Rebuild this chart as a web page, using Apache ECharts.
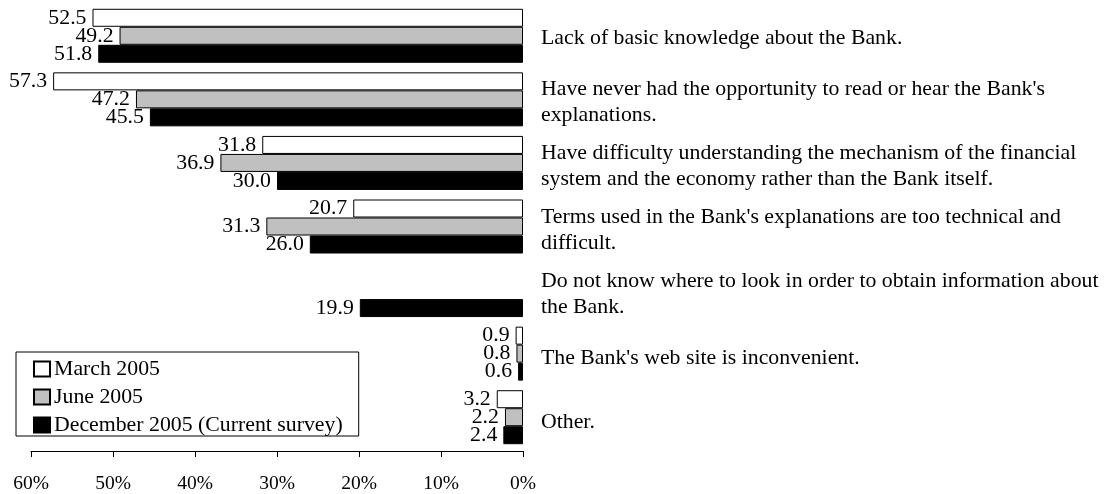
<!DOCTYPE html>
<html>
<head>
<meta charset="utf-8">
<script src="https://cdn.jsdelivr.net/npm/echarts@6/dist/echarts.min.js"></script>
<style>
  html, body { margin: 0; padding: 0; background: #fff; }
  #chart { width: 1105px; height: 494px; }
</style>
</head>
<body>
<div id="chart"></div>
<script>
// Reasons respondents gave for not understanding the Bank (% of respondents)
const categories = [
  "Lack of basic knowledge about the Bank.",
  "Have never had the opportunity to read or hear the Bank's\nexplanations.",
  "Have difficulty understanding the mechanism of the financial\nsystem and the economy rather than the Bank itself.",
  "Terms used in the Bank's explanations are too technical and\ndifficult.",
  "Do not know where to look in order to obtain information about\nthe Bank.",
  "The Bank's web site is inconvenient.",
  "Other."
];
const seriesNames = ["March 2005", "June 2005", "December 2005 (Current survey)"];
const march2005 = [52.5, 57.3, 31.8, 20.7, null, 0.9, 3.2];
const june2005 = [49.2, 47.2, 36.9, 31.3, null, 0.8, 2.2];
const december2005 = [51.8, 45.5, 30.0, 26.0, 19.9, 0.6, 2.4];
const axisTicks = [0, 10, 20, 30, 40, 50, 60];

const FONT = "'Liberation Serif', 'Times New Roman', serif";
const TEXT_SIZE = 21.8;
const GRID_TOP = 4;
const GRID_BOTTOM = 42.5;
const LABEL_SHIFT = 2.5; // the category text sits slightly below the bar-group centre

function barSeries(name, data, color) {
  return {
    name: name,
    type: 'bar',
    data: data,
    barWidth: 18,
    barGap: '0%',
    itemStyle: { color: color, borderColor: '#000', borderWidth: 1 },
    label: {
      show: true,
      position: 'left',
      distance: 6,
      color: '#000',
      fontFamily: FONT,
      fontSize: TEXT_SIZE,
      formatter: p => (p.value == null ? '' : Number(p.value).toFixed(1))
    },
    emphasis: { disabled: true }
  };
}

const chart = echarts.init(document.getElementById('chart'), null, { renderer: 'canvas' });
chart.setOption({
  animation: false,
  backgroundColor: '#fff',
  textStyle: { fontFamily: FONT },
  grid: [
    { left: 31, right: 582, top: GRID_TOP, bottom: GRID_BOTTOM, containLabel: false },
    // text column for the category descriptions
    { left: 31, right: 582, top: GRID_TOP + LABEL_SHIFT, bottom: GRID_BOTTOM - LABEL_SHIFT, containLabel: false }
  ],
  legend: {
    orient: 'vertical',
    left: 16,
    top: 352,
    data: seriesNames,
    icon: 'rect',
    itemWidth: 16,
    itemHeight: 15,
    itemGap: 6,
    padding: [6, 16, 0, 17],
    borderColor: '#000',
    borderWidth: 1,
    borderRadius: 0,
    textStyle: {
      fontFamily: FONT,
      fontSize: TEXT_SIZE,
      color: '#000',
      padding: [0, 0, 0, -1]
    },
    selectedMode: false
  },
  xAxis: [
    {
      type: 'value',
      gridIndex: 0,
      inverse: true,
      min: axisTicks[0],
      max: axisTicks[axisTicks.length - 1],
      interval: 10,
      offset: 2,
      splitLine: { show: false },
      axisLine: { show: true, lineStyle: { color: '#000', width: 1 } },
      axisTick: { show: true, length: 6, inside: false, lineStyle: { color: '#000' } },
      axisLabel: {
        formatter: '{value}%',
        color: '#000',
        fontFamily: FONT,
        fontSize: 19.5,
        margin: 23
      }
    },
    {
      type: 'value',
      gridIndex: 1,
      show: false,
      min: 0,
      max: 60
    }
  ],
  yAxis: [
    {
      type: 'category',
      gridIndex: 0,
      position: 'right',
      inverse: true,
      data: categories,
      axisLine: { show: false },
      axisTick: { show: false },
      splitLine: { show: false },
      axisLabel: { show: false }
    },
    {
      type: 'category',
      gridIndex: 1,
      position: 'right',
      inverse: true,
      data: categories,
      axisLine: { show: false },
      axisTick: { show: false },
      splitLine: { show: false },
      axisLabel: {
        color: '#000',
        fontFamily: FONT,
        fontSize: TEXT_SIZE,
        lineHeight: 25.5,
        margin: 18,
        align: 'left',
        interval: 0
      }
    }
  ],
  series: [
    barSeries(seriesNames[0], march2005, '#ffffff'),
    barSeries(seriesNames[1], june2005, '#c0c0c0'),
    barSeries(seriesNames[2], december2005, '#000000')
  ]
});
</script>
</body>
</html>
